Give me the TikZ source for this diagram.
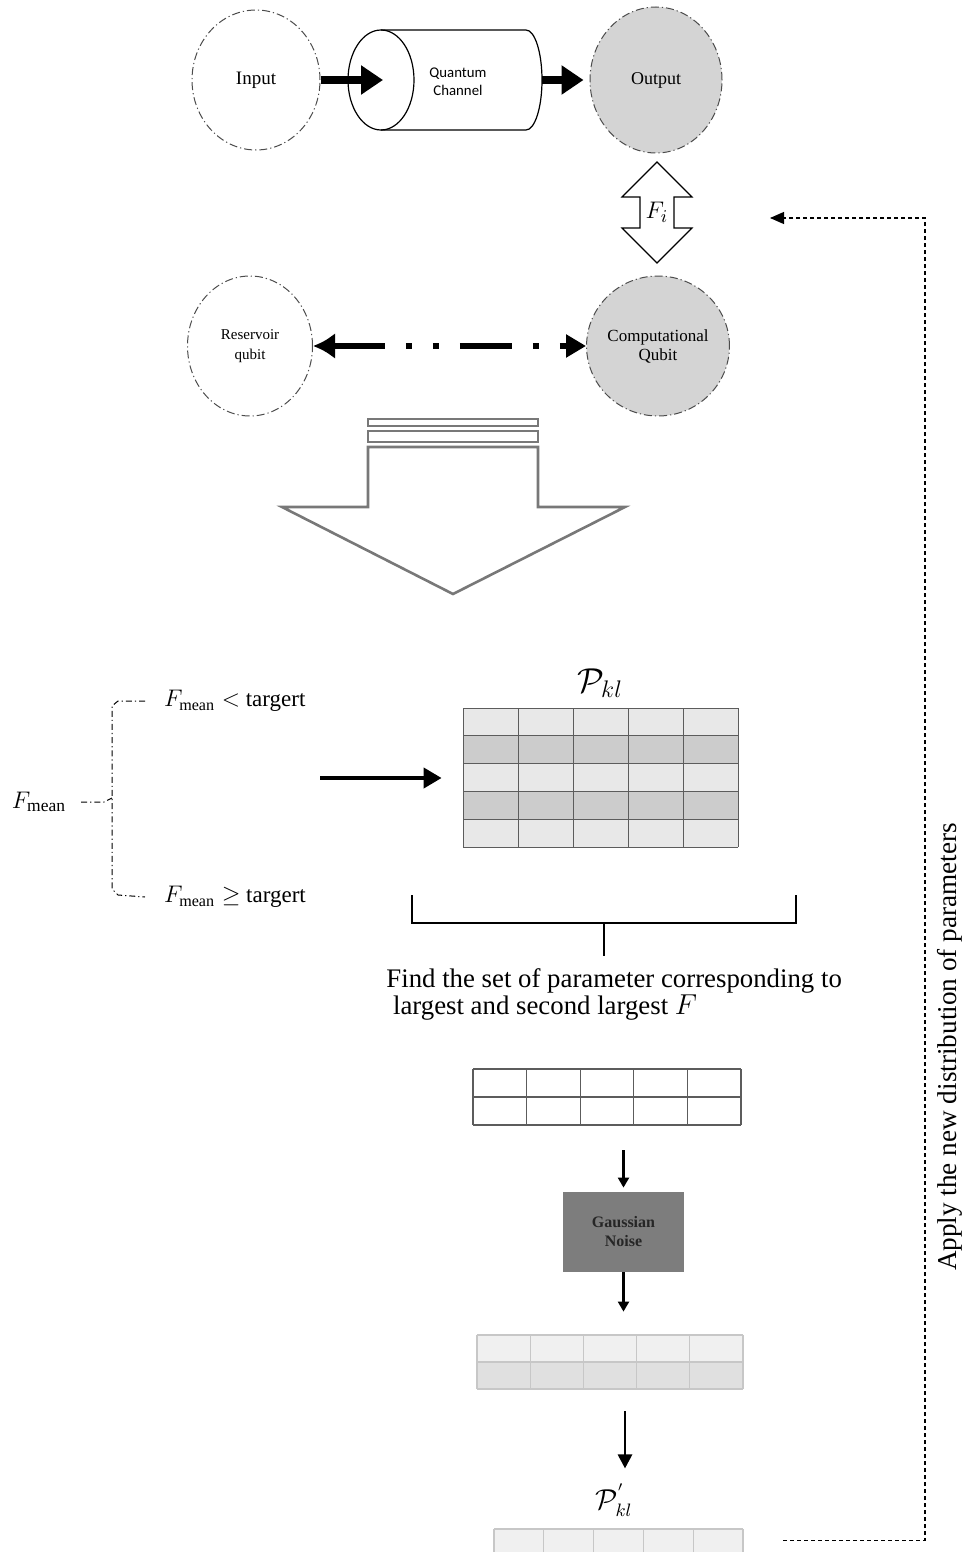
\documentclass[tikz,border=0pt]{standalone}
\usepackage{fontspec}
\setmainfont{Liberation Serif}
\newfontfamily\chanfont{Carlito}
\usetikzlibrary{arrows.meta,calc,positioning,shapes.geometric}
\definecolor{QubitClr}{rgb}{0.83,0.83,0.83}
\definecolor{HollowClr}{rgb}{0.47,0.47,0.47}
\definecolor{RowLight}{rgb}{0.91,0.91,0.91}
\definecolor{RowDark}{rgb}{0.80,0.80,0.80}
\definecolor{GridClr}{rgb}{0.36,0.36,0.36}
\definecolor{NoiseClr}{rgb}{0.49,0.49,0.49}
\definecolor{PaleTop}{rgb}{0.94,0.94,0.94}
\definecolor{PaleBot}{rgb}{0.88,0.88,0.88}
\definecolor{PaleGrid}{rgb}{0.78,0.78,0.78}

\begin{document}
\begin{tikzpicture}[x=0.5pt,y=-0.5pt,
  qubit/.style={ellipse,draw=black!70,dash pattern=on 4pt off 1.5pt on 0.6pt off 1.5pt,line width=0.5pt,
    inner sep=0pt,align=center,minimum width=64pt,minimum height=70pt},
  fatarrow/.style={line width=4pt,-{Triangle[length=11pt,width=14pt]}},
  midarrow/.style={line width=2pt,-{Triangle[length=9pt,width=10pt]}},
  downarrow/.style={line width=1.1pt,-{Triangle[length=5pt,width=5.5pt]}},
  lastarrow/.style={line width=1.4pt,-{Triangle[length=7pt,width=7pt]}},
  link/.style={line width=3.2pt,dash pattern=on 26pt off 10.5pt on 3pt off 10.5pt on 3pt off 10.5pt,
    {Latex[length=11pt,width=13pt]}-{Triangle[length=10pt,width=11pt]}},
  hollow/.style={draw=HollowClr,line width=1.3pt,fill=white},
  bracepath/.style={dash pattern=on 3pt off 1.5pt on 0.6pt off 1.5pt,line width=0.5pt},
  feedback/.style={dash pattern=on 2pt off 1.5pt,line width=0.6pt,-{Triangle[length=7pt,width=6pt]}}]

\useasboundingbox (0,0) rectangle (969,1552);

\node[qubit,font=\fontsize{9.5}{11}\selectfont] (inp) at (256,80) {Input};
\node[qubit,fill=QubitClr,minimum width=66pt,minimum height=73pt,font=\fontsize{9}{11}\selectfont] (outp) at (656,80) {Output};

\draw[line width=0.6pt] (381,80) ellipse[x radius=16.5pt,y radius=25pt];
\draw[line width=0.6pt] (381,30) -- (526,30) arc[start angle=90,end angle=-90,x radius=8pt,y radius=25pt] -- (381,130);
\node[font=\chanfont\fontsize{7.4}{9}\selectfont,align=center] (chan) at (458,82) {Quantum\\Channel};
\coordinate (chanin) at (383,80);
\coordinate (chanout) at (542,80);
\draw[fatarrow] (inp) -- (chanin);
\draw[fatarrow,shorten >=3pt] (chanout) -- (outp);

\node[font=\fontsize{12.5}{14}\selectfont] (fid) at (657,212) {$F_i$};
\draw[line width=0.6pt] ($(fid)+(0,-50)$) -- ++(35,35) -- ++(-18,0) -- ++(0,31) -- ++(18,0) -- ++(-35,35)
  -- ++(-35,-35) -- ++(18,0) -- ++(0,-31) -- ++(-18,0) -- cycle;

\node[qubit,minimum width=62.5pt,font=\fontsize{7.5}{10}\selectfont] (res) at (250,346) {Reservoir\\qubit};
\node[qubit,fill=QubitClr,font=\fontsize{8.5}{9.5}\selectfont] (comp) at (658,346) {Computational\\Qubit};
\draw[link] (res) -- (comp);

\draw[hollow] (368,419) rectangle (538,426);
\draw[hollow] (368,431) rectangle (538,442);
\draw[hollow] (368,447) -- (538,447) -- (538,507) -- (625,507) -- (453,594) -- (282,507) -- (368,507) -- cycle;

\node[font=\fontsize{12.5}{14}\selectfont] (fm) at (39,802) {$F_{\mathrm{mean}}$};
\node[anchor=west,font=\fontsize{11.5}{14}\selectfont] (flow) at (157,701) {$F_{\mathrm{mean}} <$ targert};
\node[anchor=west,font=\fontsize{11.5}{14}\selectfont] (fhigh) at (157,897) {$F_{\mathrm{mean}} \geq$ targert};
\draw[bracepath] ($(flow.west)+(-12,0)$) -- (118,701) -- (112,706) -- (112,889) -- (118,895) -- ($(fhigh.west)+(-12,0)$);
\draw[bracepath] (fm.east) ++(8,0) -- (104,802) -- (112,798);

\foreach \r/\clr in {0/RowLight,1/RowDark,2/RowLight,3/RowDark,4/RowLight}
  \fill[\clr] (463,708+27.8*\r) rectangle (738,735.8+27.8*\r);
\foreach \c in {0,...,5}
  \draw[GridClr,line width=0.5pt] (463+55*\c,708) -- (463+55*\c,847);
\foreach \r in {0,...,5}
  \draw[GridClr,line width=0.5pt] (463,708+27.8*\r) -- (738,708+27.8*\r);
\node[minimum width=137.5pt,minimum height=69.5pt,inner sep=0pt] (pkl) at (600.5,777.5) {};
\node[font=\fontsize{18}{20}\selectfont] (pkllab) at (600,683) {$\mathcal{P}_{kl}$};
\coordinate (fstart) at (320,778);
\draw[midarrow,shorten >=10.5pt] (fstart) -- (fstart -| pkl.west);

\draw[line width=0.6pt] (412,895) -- (412,923) -- (796,923) -- (796,895);
\coordinate (brk) at (604,923);
\node[anchor=north west,align=left,inner sep=0pt,font=\fontsize{13.4}{13.5}\selectfont] (find) at (386,968)
  {Find the set of parameter corresponding to\\ \hspace{0.25em}largest and second largest $F$};
\draw[line width=0.6pt,shorten >=6pt] (brk) -- (brk |- find.north);

\foreach \c in {0,...,5}
  \draw[GridClr,line width=0.6pt] (473+53.6*\c,1069) -- (473+53.6*\c,1125);
\foreach \r in {0,1,2}
  \draw[GridClr,line width=0.6pt] (473,1069+28*\r) -- (741,1069+28*\r);
\node[minimum width=134pt,minimum height=28pt,inner sep=0pt] (best) at (607,1097) {};

\node[fill=NoiseClr,minimum width=60.5pt,minimum height=40pt,inner sep=0pt,align=center,
  font=\bfseries\fontsize{8}{9.5}\selectfont,text=black!85] (noise) at (623.5,1232) {Gaussian\\Noise};

\fill[PaleTop] (477,1335) rectangle (743,1362);
\fill[PaleBot] (477,1362) rectangle (743,1389);
\foreach \c in {0,...,5}
  \draw[PaleGrid,line width=0.6pt] (477+53.2*\c,1335) -- (477+53.2*\c,1389);
\foreach \r in {0,1,2}
  \draw[PaleGrid,line width=0.6pt] (477,1335+27*\r) -- (743,1335+27*\r);
\node[minimum width=133pt,minimum height=27pt,inner sep=0pt] (pale) at (610,1362) {};

\draw[downarrow,shorten <=12.5pt,shorten >=2pt] (best.south -| noise.north) -- (noise.north);
\draw[downarrow,shorten >=11.5pt] (noise.south) -- (noise.south |- pale.north);

\node[font=\fontsize{13.5}{16}\selectfont] (pnew) at (614,1500) {$\mathcal{P}_{kl}^{'}$};
\draw[lastarrow,shorten <=11pt,shorten >=4pt] ($(pale.south)+(15,0)$) -- ($(pnew.north)+(11,0)$);

\fill[PaleTop] (494,1529) rectangle (743,1552);
\foreach \c in {0,...,5}
  \draw[PaleGrid,line width=0.6pt] (494+49.8*\c,1529) -- (494+49.8*\c,1552);
\draw[PaleGrid,line width=0.6pt] (494,1529) -- (743,1529);
\node[minimum width=124.5pt,minimum height=11.5pt,inner sep=0pt] (ptab) at (618.5,1540.5) {};

\coordinate (rail) at (925,218);
\coordinate (fbend) at (770,218);
\draw[feedback,shorten <=20pt] (ptab.east) -| (rail) -- (fbend);
\node[rotate=90,font=\fontsize{13.6}{16}\selectfont] (applytxt) at (950,1047) {Apply the new distribution of parameters};

\end{tikzpicture}
\end{document}
